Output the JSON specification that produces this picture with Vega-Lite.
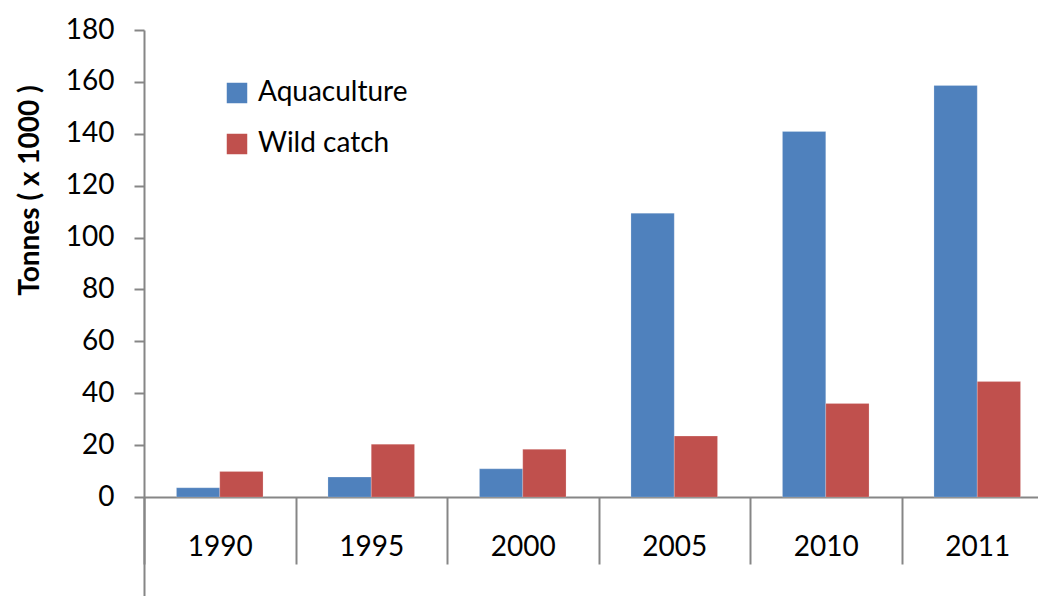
{
  "$schema": "https://vega.github.io/schema/vega-lite/v6.json",
  "width": 909,
  "height": 566,
  "autosize": {"type": "none"},
  "padding": {"left": 144, "top": 30, "right": 0, "bottom": 0},
  "background": "white",
  "config": {
    "view": {"stroke": null},
    "font": "Lato",
    "axis": {"domainColor": "#868686", "domainWidth": 2, "tickColor": "#868686", "tickWidth": 2, "labelColor": "black", "labelFont": "Lato", "titleFont": "Lato", "grid": false}
  },
  "data": {
    "values": [
      {"year": "1990", "series": "Aquaculture", "value": 3.6},
      {"year": "1990", "series": "Wild catch", "value": 9.9},
      {"year": "1995", "series": "Aquaculture", "value": 7.7},
      {"year": "1995", "series": "Wild catch", "value": 20.4},
      {"year": "2000", "series": "Aquaculture", "value": 10.9},
      {"year": "2000", "series": "Wild catch", "value": 18.4},
      {"year": "2005", "series": "Aquaculture", "value": 109.4},
      {"year": "2005", "series": "Wild catch", "value": 23.5},
      {"year": "2010", "series": "Aquaculture", "value": 140.9},
      {"year": "2010", "series": "Wild catch", "value": 36.1},
      {"year": "2011", "series": "Aquaculture", "value": 158.6},
      {"year": "2011", "series": "Wild catch", "value": 44.5}
    ]
  },
  "mark": {"type": "bar", "stroke": "white", "strokeOpacity": 0.4, "strokeWidth": 0.5},
  "encoding": {
    "x": {
      "field": "year", "type": "nominal", "sort": null,
      "scale": {"paddingInner": 0, "paddingOuter": 0},
      "axis": {
        "title": null, "orient": "bottom", "offset": -99, "labelAngle": 0,
        "tickBand": "extent", "tickSize": 67, "labelPadding": -17,
        "labelBaseline": "middle", "labelFontSize": 28
      }
    },
    "xOffset": {
      "field": "series", "type": "nominal",
      "scale": {"paddingInner": 0, "paddingOuter": 0.75}
    },
    "y": {
      "field": "value", "type": "quantitative",
      "scale": {"domain": [-38.12, 180], "nice": false, "zero": false},
      "axis": {
        "values": [0, 20, 40, 60, 80, 100, 120, 140, 160, 180],
        "tickSize": 10, "labelPadding": 20, "labelFontSize": 28,
        "title": "Tonnes ( x 1000 )", "titleFontSize": 28, "titleFontWeight": "bold",
        "titleColor": "black", "titleAngle": -90, "titleAlign": "center", "titleBaseline": "middle",
        "titleX": -114, "titleY": 160
      }
    },
    "y2": {"datum": 0},
    "color": {
      "field": "series", "type": "nominal",
      "scale": {"domain": ["Aquaculture", "Wild catch"], "range": ["#4F81BD", "#C0504D"]},
      "legend": {
        "title": null, "orient": "none", "legendX": 79, "legendY": 49,
        "symbolType": "square", "symbolSize": 420, "symbolStrokeWidth": 0,
        "labelFontSize": 28, "labelColor": "black", "labelFont": "Lato", "labelOffset": 7,
        "rowPadding": 23
      }
    }
  }
}
